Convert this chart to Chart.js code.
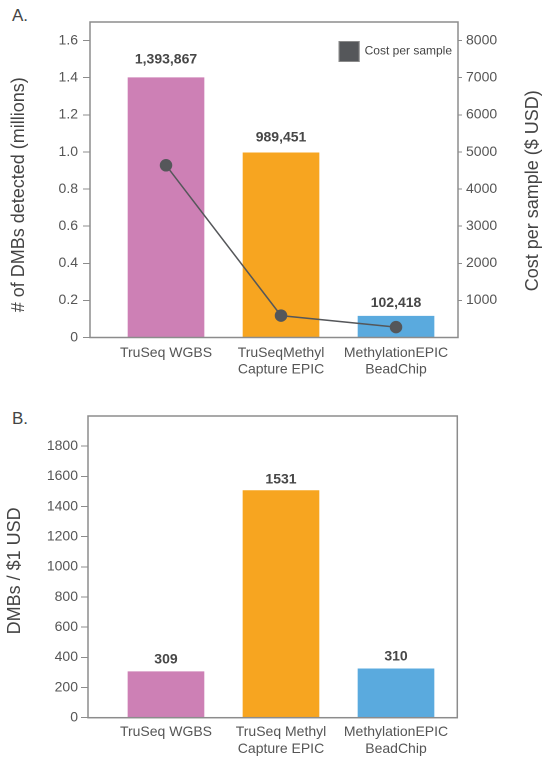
<!DOCTYPE html>
<html>
<head>
<meta charset="utf-8">
<script src="https://cdn.jsdelivr.net/npm/chart.js@4/dist/chart.umd.min.js"></script>
<style>
  html, body { margin: 0; padding: 0; background: #fff; }
  body { width: 543px; height: 757px; position: relative; overflow: hidden; font-family: "Liberation Sans", Arial, sans-serif; }
  .panel { position: absolute; left: 0; }
  .plabel { position: absolute; left: 12px; font-size: 17px; color: #444; font-family: "Liberation Sans", Arial, sans-serif; }
</style>
</head>
<body>
<div class="plabel" style="top:6px;">A.</div>
<div class="plabel" style="top:409px;">B.</div>
<div class="panel" style="top:0px;"><canvas id="chartA" width="543" height="385"></canvas></div>
<div class="panel" style="top:385px;"><canvas id="chartB" width="543" height="372"></canvas></div>
<script>
// ---------- DATA ----------
const categoriesA = [["TruSeq WGBS"], ["TruSeqMethyl", "Capture EPIC"], ["MethylationEPIC", "BeadChip"]];
const categoriesB = [["TruSeq WGBS"], ["TruSeq Methyl", "Capture EPIC"], ["MethylationEPIC", "BeadChip"]];
const dmbMillions = [1.40, 0.995, 0.115];
const dmbLabels = ["1,393,867", "989,451", "102,418"];
const costPerSample = [4640, 590, 280];
const dmbPerDollar = [305, 1506, 324];
const dmbPerDollarLabels = ["309", "1531", "310"];
const leftTicksA = [0, 0.2, 0.4, 0.6, 0.8, 1.0, 1.2, 1.4, 1.6];
const rightTicksA = [1000, 2000, 3000, 4000, 5000, 6000, 7000, 8000];
const ticksB = [0, 200, 400, 600, 800, 1000, 1200, 1400, 1600, 1800];
const titleLeftA = "# of DMBs detected (millions)";
const titleRightA = "Cost per sample ($ USD)";
const titleB = "DMBs / $1 USD";
const barColors = ["#CD80B5", "#F7A520", "#5AAADE"];
const lineColor = "#55575A";

// ---------- helpers ----------
const FONT = "'Liberation Sans', Arial, sans-serif";
const TICK_COLOR = "#555";
const AXIS_COLOR = "#8c8c8c";

const boxPlugin = {
  id: 'box',
  afterDraw(chart) {
    const {ctx, chartArea: a} = chart;
    ctx.save();
    ctx.strokeStyle = AXIS_COLOR;
    ctx.lineWidth = 1.5;
    ctx.strokeRect(a.left, a.top, a.right - a.left, a.bottom - a.top);
    ctx.restore();
  }
};

// vertical axis titles drawn at a given offset from the chart-area centre
function axisTitlesPlugin(list) {
  return {
    id: 'axisTitles',
    afterDraw(chart) {
      const ctx = chart.ctx;
      const a = chart.chartArea;
      ctx.save();
      ctx.font = "18px " + FONT;
      ctx.fillStyle = "#444";
      ctx.textAlign = "center";
      ctx.textBaseline = "middle";
      list.forEach(t => {
        ctx.save();
        ctx.translate(t.x, (a.top + a.bottom) / 2 + t.dy);
        ctx.rotate(t.rot);
        ctx.fillText(t.text, 0, 0);
        ctx.restore();
      });
      ctx.restore();
    }
  };
}

function valueLabelPlugin(labels, gaps) {
  return {
    id: 'valueLabels',
    afterDatasetsDraw(chart) {
      const ctx = chart.ctx;
      let barIdx = chart.data.datasets.findIndex(d => (d.type || chart.config.type) === 'bar');
      const meta = chart.getDatasetMeta(barIdx);
      ctx.save();
      ctx.font = "bold 14px " + FONT;
      ctx.fillStyle = "#474747";
      ctx.textAlign = "center";
      ctx.textBaseline = "middle";
      meta.data.forEach((el, i) => {
        ctx.fillText(labels[i], el.x, el.y - gaps[i]);
      });
      ctx.restore();
    }
  };
}

const legendPlugin = {
  id: 'innerLegend',
  afterDraw(chart) {
    const ds = chart.data.datasets.find(d => d.type === 'line');
    const a = chart.chartArea;
    const ctx = chart.ctx;
    ctx.save();
    ctx.font = "12px " + FONT;
    const tw = ctx.measureText(ds.label).width;
    const x0 = a.right - 6 - tw - 26;
    const y0 = a.top + 19;
    ctx.fillStyle = ds.borderColor;
    ctx.fillRect(x0, y0, 21, 21);
    ctx.strokeStyle = "#8a8a8a";
    ctx.lineWidth = 1;
    ctx.strokeRect(x0 + 0.5, y0 + 0.5, 20, 20);
    ctx.fillStyle = "#444";
    ctx.textBaseline = "middle";
    ctx.textAlign = "left";
    ctx.fillText(ds.label, x0 + 26, y0 + 10);
    ctx.restore();
  }
};

function keepTicks(list) {
  return function(scale) { scale.ticks = list.map(v => ({value: v})); };
}

function categoryScale(cats, min, max, height, pad) {
  return {
    type: 'linear',
    offset: false,
    min: min, max: max,
    grid: { display: false, offset: false, drawTicks: false },
    border: { display: false },
    afterBuildTicks: keepTicks(cats.map((c, i) => i)),
    afterFit(scale) { scale.height = height; },
    ticks: {
      padding: pad,
      color: TICK_COLOR,
      font: { family: FONT, size: 14, lineHeight: 1.2 },
      maxRotation: 0, autoSkip: false,
      callback: (v) => cats[v]
    }
  };
}

// ---------- Chart A ----------
new Chart(document.getElementById('chartA'), {
  type: 'bar',
  data: {
    datasets: [
      {
        type: 'line',
        label: 'Cost per sample',
        data: costPerSample.map((v, i) => ({x: i, y: v})),
        yAxisID: 'y1',
        borderColor: lineColor,
        backgroundColor: lineColor,
        borderWidth: 1.5,
        pointRadius: 5.5,
        pointBackgroundColor: lineColor,
        pointBorderColor: lineColor,
        order: 0
      },
      {
        type: 'bar',
        label: '# of DMBs detected',
        data: dmbMillions.map((v, i) => ({x: i, y: v})),
        yAxisID: 'y',
        backgroundColor: barColors,
        barThickness: 76,
        order: 1
      }
    ]
  },
  options: {
    responsive: false,
    animation: false,
    devicePixelRatio: 2,
    layout: { padding: { top: 22, left: 0, right: 0, bottom: 0 } },
    plugins: { legend: { display: false }, tooltip: { enabled: false } },
    scales: {
      x: categoryScale(categoriesA, -0.661, 2.539, 47.5, 7),
      y: {
        position: 'left',
        min: 0, max: 1.7,
        afterBuildTicks: keepTicks(leftTicksA),
        afterFit(scale) { scale.width = 90; },
        grid: { drawOnChartArea: false, drawTicks: true, tickLength: 7, color: AXIS_COLOR, lineWidth: 1 },
        border: { display: false },
        ticks: {
          padding: 5, color: TICK_COLOR,
          font: { family: FONT, size: 14 },
          callback: (v) => v === 0 ? '0' : v.toFixed(1)
        }
      },
      y1: {
        position: 'right',
        min: 0, max: 8500,
        afterBuildTicks: keepTicks(rightTicksA),
        afterFit(scale) { scale.width = 85; },
        grid: { drawOnChartArea: false, drawTicks: true, tickLength: 4, color: AXIS_COLOR, lineWidth: 1 },
        border: { display: false },
        ticks: {
          padding: 4, color: TICK_COLOR,
          font: { family: FONT, size: 14 },
          callback: (v) => String(v)
        }
      }
    }
  },
  plugins: [boxPlugin, valueLabelPlugin(dmbLabels, [18, 15, 13]), legendPlugin,
    axisTitlesPlugin([
      { text: titleLeftA, x: 19, dy: 15, rot: -Math.PI / 2 },
      { text: titleRightA, x: 533, dy: 11, rot: -Math.PI / 2 }
    ])]
});

// ---------- Chart B ----------
new Chart(document.getElementById('chartB'), {
  type: 'bar',
  data: {
    datasets: [
      {
        type: 'bar',
        label: 'DMBs / $1 USD',
        data: dmbPerDollar.map((v, i) => ({x: i, y: v})),
        backgroundColor: barColors,
        barThickness: 76
      }
    ]
  },
  options: {
    responsive: false,
    animation: false,
    devicePixelRatio: 2,
    layout: { padding: { top: 31, left: 0, right: 85.7, bottom: 0 } },
    plugins: { legend: { display: false }, tooltip: { enabled: false } },
    scales: {
      x: categoryScale(categoriesB, -0.678, 2.533, 372 - 332.7, 6),
      y: {
        position: 'left',
        min: 0, max: 2000,
        afterBuildTicks: keepTicks(ticksB),
        afterFit(scale) { scale.width = 88; },
        grid: { drawOnChartArea: false, drawTicks: true, tickLength: 7, color: AXIS_COLOR, lineWidth: 1 },
        border: { display: false },
        ticks: {
          padding: 3, color: TICK_COLOR,
          font: { family: FONT, size: 14 },
          callback: (v) => String(v)
        }
      }
    }
  },
  plugins: [boxPlugin, valueLabelPlugin(dmbPerDollarLabels, [12, 11, 12]),
    axisTitlesPlugin([
      { text: titleB, x: 15, dy: 4, rot: -Math.PI / 2 }
    ])]
});
</script>
</body>
</html>
